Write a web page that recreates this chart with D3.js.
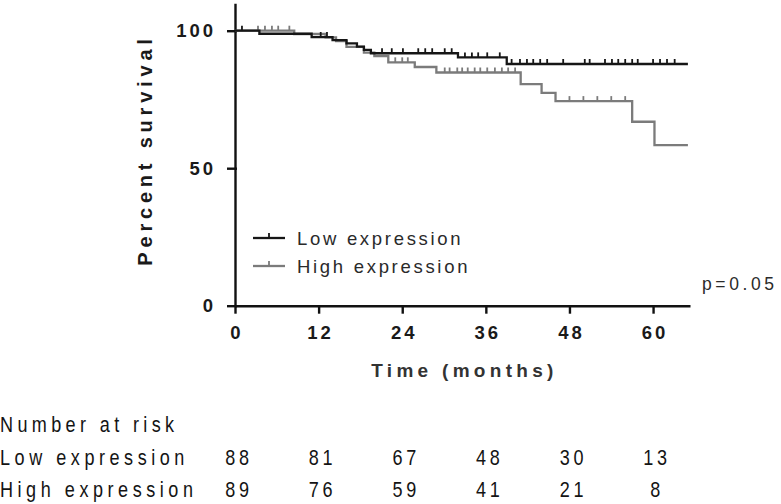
<!DOCTYPE html>
<html>
<head>
<meta charset="utf-8">
<script src="https://cdn.jsdelivr.net/npm/d3@7"></script>
<style>
  html, body { margin: 0; padding: 0; background: #fff; }
  svg { display: block; }
  text { font-family: "Liberation Sans", Arial, sans-serif; }
</style>
</head>
<body>
<div id="chart"></div>
<script>
// ---------- data ----------
const timeTicks = [0, 12, 24, 36, 48, 60];
const survTicks = [0, 50, 100];
const seriesNames = ["Low expression", "High expression"];

// Kaplan-Meier step points (time in months, percent survival)
const lowTimes = [0, 3.5, 11, 14, 16, 17.5, 18.5, 19.5, 32, 39];
const lowSurv  = [100, 98.9, 97.7, 96.6, 95.4, 94.2, 93.0, 91.8, 90.3, 87.9];
const lowCensor = [1, 12.3, 13.2, 21.1, 22.5, 24.1, 26.3, 27.3, 28.3, 30.1, 31.1,
  33.0, 34.0, 34.9, 36.2, 38.0, 39.7, 40.9, 41.9, 42.8, 43.8, 44.8, 47.1, 50.2, 50.9,
  53.1, 54.1, 55.0, 56.0, 57.0, 57.8, 60.0, 61.0, 62.0, 63.1];

const highTimes = [0, 8.5, 13, 14.5, 16, 18.5, 20, 22, 25.8, 28.9, 41, 44, 46, 57, 60.2];
const highSurv  = [100, 98.8, 97.6, 96.2, 94.1, 92.0, 90.8, 88.5, 86.8, 84.8, 80.6, 77.4, 74.4, 66.9, 58.4];
const highCensor = [3.3, 4.3, 5.3, 6.2, 7.8, 23.0, 24.0, 24.8, 30.1, 30.8, 31.9, 32.6, 33.4,
  34.4, 35.2, 36.2, 37.3, 38.3, 39.2, 40.2, 48.0, 50.0, 52.0, 54.0, 56.0];

const endTime = 65;
const riskLow  = [88, 81, 67, 48, 30, 13];
const riskHigh = [89, 76, 59, 41, 21, 8];
const pValueText = "p=0.05";

// ---------- drawing ----------
const W = 781, H = 504;
const svg = d3.select("#chart").append("svg").attr("width", W).attr("height", H);

const x = d3.scaleLinear().domain([0, 65.3]).range([235, 690]);
const y = d3.scaleLinear().domain([0, 110]).range([305.7, 3.2]);

const colors = ["#161616", "#7b7b7b"];

function survAt(times, surv, t) {
  let s = surv[0];
  for (let i = 0; i < times.length; i++) if (times[i] <= t) s = surv[i];
  return s;
}

// axes
const yAxis = d3.axisLeft(y).tickValues(survTicks).tickSize(8).tickSizeOuter(0).tickPadding(14);
const gy = svg.append("g").attr("transform", `translate(${x(0)},0)`).call(yAxis);
const xAxis = d3.axisBottom(x).tickValues(timeTicks).tickSize(8).tickSizeOuter(0).tickPadding(12);
const gx = svg.append("g").attr("transform", `translate(0,${y(0)})`).call(xAxis);

[gx, gy].forEach(g => {
  g.select(".domain").attr("stroke", "#111").attr("stroke-width", 2.4);
  g.selectAll(".tick line").attr("stroke", "#111").attr("stroke-width", 2.4);
  g.selectAll(".tick text")
    .attr("fill", "#1a1a1a")
    .attr("font-size", 18.5)
    .attr("font-weight", "bold")
    .style("letter-spacing", "3px");
});
gy.selectAll(".tick line").attr("x2", -8).attr("x1", 2);
gy.selectAll(".tick text").attr("dx", 3);
gx.selectAll(".tick text").attr("dx", 1.5);

// axis titles
svg.append("text")
  .attr("transform", `translate(152,150) rotate(-90)`)
  .attr("text-anchor", "middle")
  .attr("font-size", 20).attr("font-weight", "bold").attr("fill", "#1a1a1a")
  .style("letter-spacing", "4.8px")
  .text("Percent survival");

svg.append("text")
  .attr("x", (x(0) + x(65.3)) / 2 + 2).attr("y", 377)
  .attr("text-anchor", "middle")
  .attr("font-size", 19).attr("font-weight", "bold").attr("fill", "#333")
  .style("letter-spacing", "4.3px")
  .text("Time (months)");

// curves
const line = d3.line().x(d => x(d[0])).y(d => y(d[1])).curve(d3.curveStepAfter);
const series = [
  { times: lowTimes, surv: lowSurv, censor: lowCensor, color: colors[0] },
  { times: highTimes, surv: highSurv, censor: highCensor, color: colors[1] }
];
// draw gray first, black on top
[series[1], series[0]].forEach(s => {
  const pts = s.times.map((t, i) => [t, s.surv[i]]);
  pts.push([endTime, s.surv[s.surv.length - 1]]);
  svg.append("path").datum(pts)
    .attr("d", line)
    .attr("fill", "none")
    .attr("stroke", s.color)
    .attr("stroke-width", 2.3);
  svg.append("g").selectAll("line").data(s.censor).join("line")
    .attr("x1", d => x(d)).attr("x2", d => x(d))
    .attr("y1", d => y(survAt(s.times, s.surv, d)))
    .attr("y2", d => y(survAt(s.times, s.surv, d)) - 5)
    .attr("stroke", s.color).attr("stroke-width", 1.8);
});

// legend
const legY = [238, 266];
seriesNames.forEach((name, i) => {
  const g = svg.append("g");
  g.append("line").attr("x1", 253).attr("x2", 285).attr("y1", legY[i]).attr("y2", legY[i])
    .attr("stroke", colors[i]).attr("stroke-width", 2.3);
  g.append("line").attr("x1", 269).attr("x2", 269).attr("y1", legY[i]).attr("y2", legY[i] - 5)
    .attr("stroke", colors[i]).attr("stroke-width", 1.8);
  g.append("text").attr("x", 297).attr("y", legY[i] + 7)
    .attr("font-size", 18.5).attr("fill", "#2a2a2a")
    .style("letter-spacing", "2.7px")
    .text(name);
});

// p value
svg.append("text").attr("x", 702).attr("y", 290)
  .attr("font-size", 17.5).attr("fill", "#2a2a2a")
  .style("letter-spacing", "3.6px")
  .text(pValueText);

// number at risk table (horizontally condensed text)
const sx = 0.84;
function tableText(xPos, yPos, str, spacing, anchor) {
  return svg.append("text")
    .attr("transform", `translate(${xPos},${yPos}) scale(${sx},1)`)
    .attr("text-anchor", anchor || "start")
    .attr("font-size", 21.5).attr("fill", "#141414")
    .style("letter-spacing", spacing + "px")
    .text(str);
}
tableText(0, 432, "Number at risk", 5.2);
const rows = [riskLow, riskHigh];
const rowY = [465, 497];
rows.forEach((vals, r) => {
  tableText(0, rowY[r], seriesNames[r], 5.4);
  vals.forEach((v, i) => tableText(x(timeTicks[i]) + 4, rowY[r], String(v), 4.5, "middle"));
});
</script>
</body>
</html>
